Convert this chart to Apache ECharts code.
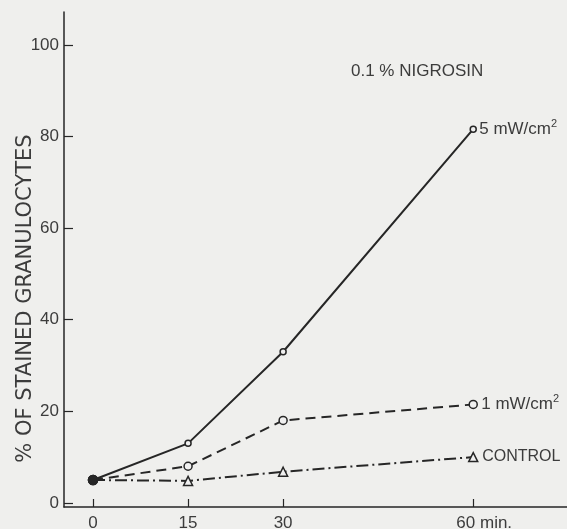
<!DOCTYPE html>
<html>
<head>
<meta charset="utf-8">
<script src="https://cdn.jsdelivr.net/npm/echarts@6/dist/echarts.min.js"></script>
<style>
html,body{margin:0;padding:0;background:#efefed;}
#chart{width:567px;height:529px;}
</style>
</head>
<body>
<div id="chart"></div>
<script>
// Data
var times = [0, 15, 30, 60];
var fiveMw = [5, 13, 33, 81.6];
var oneMw = [5, 8, 18, 21.5];
var control = [5, 4.8, 6.8, 10];
var xTickValues = [0, 15, 30, 60];
var yTickValues = [0, 20, 40, 60, 80, 100];
var titleText = '0.1 % NIGROSIN';
var yName = '% OF STAINED GRANULOCYTES';

var ink = '#262626';
var textCol = '#3c3c3c';

function pts(vals) {
  return times.map(function (t, i) {
    var p = { value: [t, vals[i]] };
    if (i === 0) {
      p.symbol = 'circle';
      p.symbolSize = 9;
      p.itemStyle = { color: ink, borderColor: ink };
    }
    return p;
  });
}

var chart = echarts.init(document.getElementById('chart'), null, { renderer: 'canvas' });
chart.setOption({
  backgroundColor: '#efefed',
  animation: false,
  title: {
    text: titleText,
    left: 346,
    top: 58,
    textStyle: { fontFamily: 'Liberation Sans', fontSize: 17, fontWeight: 'normal', color: textCol }
  },
  grid: { left: 64, right: 0, top: 12, bottom: 22, containLabel: false, outerBoundsMode: 'none' },
  xAxis: {
    type: 'value',
    min: -4.58,
    max: 74.8,
    axisLine: { show: true, onZero: false, lineStyle: { color: ink, width: 1.5 } },
    axisTick: { show: true, inside: true, length: 8, customValues: xTickValues, lineStyle: { color: ink, width: 1.2 } },
    axisLabel: {
      show: true,
      customValues: xTickValues,
      margin: 8,
      color: textCol,
      fontFamily: 'Liberation Sans',
      fontSize: 17,
      formatter: function (v) {
        if (v === 60) return '{m|60 min.}';
        return String(v);
      },
      rich: {
        m: { fontFamily: 'Liberation Sans', fontSize: 17, color: textCol, padding: [0, 0, 0, 22] }
      }
    },
    splitLine: { show: false }
  },
  yAxis: {
    type: 'value',
    min: -0.9,
    max: 107.2,
    name: yName,
    nameLocation: 'middle',
    nameRotate: 90,
    nameGap: 28,
    nameMoveOverlap: false,
    nameTextStyle: { fontFamily: 'DejaVu Sans', fontSize: 21, color: textCol, padding: [0, 78, 0, 0] },
    axisLine: { show: true, onZero: false, lineStyle: { color: ink, width: 1.5 } },
    axisTick: { show: true, inside: true, length: 9, customValues: yTickValues, lineStyle: { color: ink, width: 1.2 } },
    axisLabel: {
      show: true,
      customValues: yTickValues,
      margin: 5,
      color: textCol,
      fontFamily: 'Liberation Sans',
      fontSize: 17
    },
    splitLine: { show: false }
  },
  series: [
    {
      name: '5 mW/cm2',
      type: 'line',
      data: pts(fiveMw),
      symbol: 'circle',
      symbolSize: 6,
      showAllSymbol: true,
      itemStyle: { color: '#f0f0f0', borderColor: ink, borderWidth: 1.5 },
      lineStyle: { color: ink, width: 2, type: 'solid' },
      endLabel: {
        show: true,
        distance: 6,
        formatter: '{a|5 mW/cm}{s|2}',
        rich: {
          a: { fontFamily: 'Liberation Sans', fontSize: 17, color: textCol },
          s: { fontFamily: 'Liberation Sans', fontSize: 11, color: textCol, padding: [0, 0, 10, 0] }
        }
      }
    },
    {
      name: '1 mW/cm2',
      type: 'line',
      data: pts(oneMw),
      symbol: 'circle',
      symbolSize: 8,
      showAllSymbol: true,
      itemStyle: { color: '#f0f0f0', borderColor: ink, borderWidth: 1.5 },
      lineStyle: { color: ink, width: 2, type: [10, 6] },
      endLabel: {
        show: true,
        distance: 8,
        formatter: '{a|1 mW/cm}{s|2}',
        rich: {
          a: { fontFamily: 'Liberation Sans', fontSize: 17, color: textCol },
          s: { fontFamily: 'Liberation Sans', fontSize: 11, color: textCol, padding: [0, 0, 10, 0] }
        }
      }
    },
    {
      name: 'CONTROL',
      type: 'line',
      data: pts(control),
      symbol: 'triangle',
      symbolSize: 9,
      showAllSymbol: true,
      itemStyle: { color: '#f0f0f0', borderColor: ink, borderWidth: 1.5 },
      lineStyle: { color: ink, width: 2, type: [12, 4, 2, 4] },
      endLabel: {
        show: true,
        distance: 9,
        formatter: 'CONTROL',
        fontFamily: 'Liberation Sans',
        fontSize: 16,
        color: textCol
      }
    }
  ]
});
</script>
</body>
</html>
